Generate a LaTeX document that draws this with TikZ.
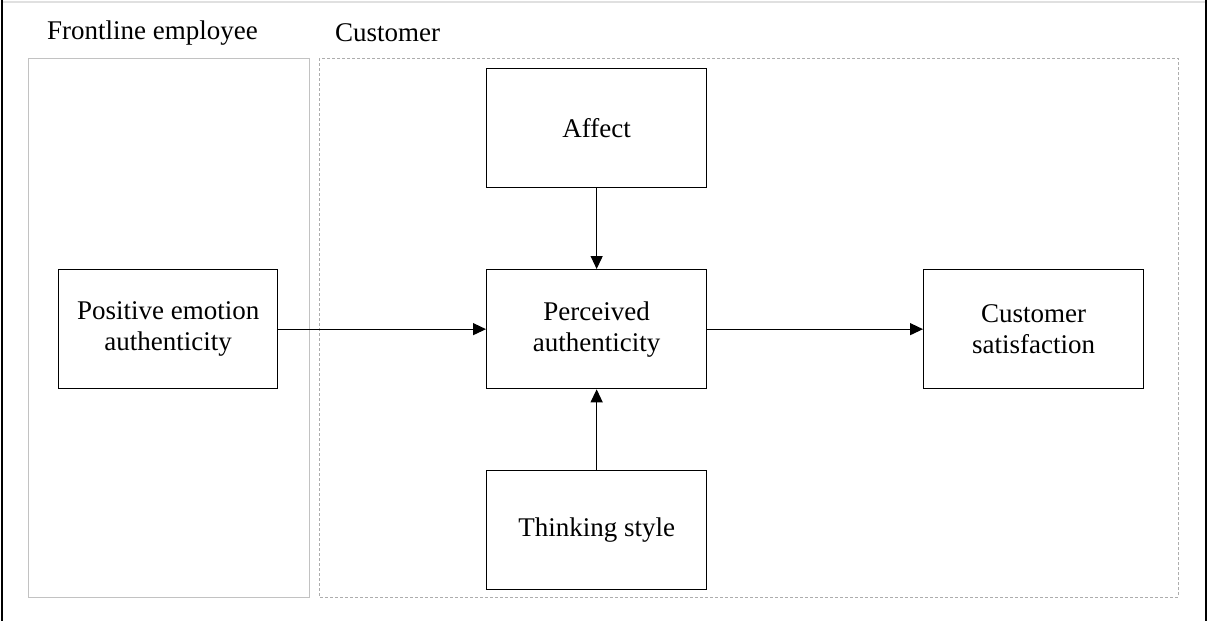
\documentclass[tikz,border=0pt]{standalone}
\usepackage{fontspec}
\setmainfont{Liberation Serif}
\usetikzlibrary{arrows.meta}
\begin{document}
\begin{tikzpicture}[x=1pt,y=-1pt,
  every node/.style={font=\fontsize{27}{31}\selectfont},
  boxnode/.style={draw=black, line width=1.3pt, minimum width=220pt, minimum height=119pt, align=center, inner sep=0pt, anchor=north west},
  lbl/.style={anchor=west, inner sep=0pt},
  arr/.style={line width=1.2pt, -{Triangle[length=13pt,width=12pt]}},
  group/.style={draw=black!24, line width=1pt},
  dgroup/.style={draw=black!32, line width=1pt, dash pattern=on 3pt off 2pt}]
\useasboundingbox (0,0) rectangle (1207,621);
\fill[white] (0,0) rectangle (1207,621);
% frame artifacts
\draw[black!12, line width=1.2pt] (2,2) -- (1206,2);
\draw[black, line width=1.6pt] (2,0) -- (2,621);
\draw[black, line width=1.6pt] (1206,0) -- (1206,621);
% groups
\draw[group] (28,58) rectangle (309,597);
\draw[dgroup] (319,58) rectangle (1178,597);
\node[lbl] (lfront) at (47,33) {Frontline employee};
\node[lbl] (lcust) at (335,33) {Customer};
% boxes
\node[boxnode, minimum width=219pt] (pos) at (58,269) {Positive emotion\\authenticity};
\node[boxnode] (aff) at (486,68) {Affect};
\node[boxnode] (per) at (486,269) {Perceived\\authenticity};
\node[boxnode] (think) at (486,470) {Thinking style};
\node[boxnode] (sat) at (923,269) {Customer\\satisfaction};
% arrows
\draw[arr] (aff.south) -- (per.north);
\draw[arr] (think.north) -- (per.south);
\draw[arr] (pos.east) -- (per.west);
\draw[arr] (per.east) -- (sat.west);
\end{tikzpicture}
\end{document}
